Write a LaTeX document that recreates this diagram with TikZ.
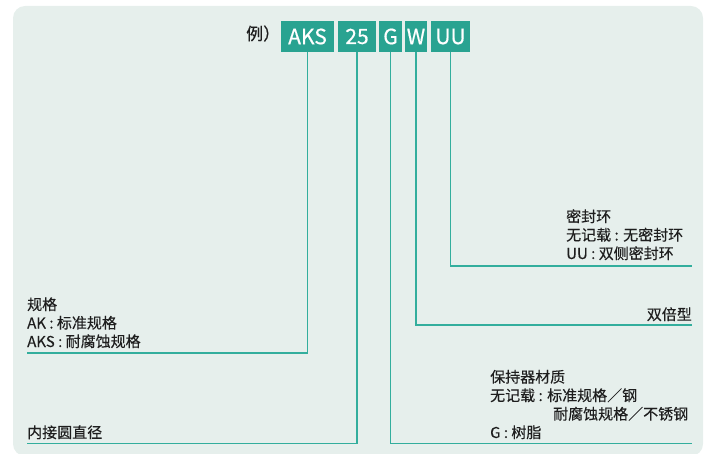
\documentclass[tikz,border=0pt]{standalone}
\usepackage{fontspec}
\setmainfont{Noto Sans CJK SC}
\newfontfamily\labfont{Noto Sans CJK SC}[FakeBold=0.35]
\newfontfamily\boxfont{Noto Sans CJK SC}[FakeBold=0.6]
\definecolor{bgc}{HTML}{E6EFEC}
\definecolor{boxc}{HTML}{29A391}
\definecolor{linec}{HTML}{33AE9D}
\definecolor{txtc}{HTML}{1E1E1E}
\begin{document}
\begin{tikzpicture}[x=1pt,y=-1pt,
  codebox/.style={fill=boxc,text=white,inner sep=0pt,minimum height=31pt,font=\boxfont\fontsize{21}{21}\selectfont},
  conn/.style={draw=linec,line width=1.3pt},
  lbl/.style={anchor=base west,inner sep=0pt,text=txtc,font=\labfont\fontsize{15}{15}\selectfont},
  lblr/.style={anchor=base east,inner sep=0pt,text=txtc,font=\labfont\fontsize{15}{15}\selectfont}]
\useasboundingbox (0,0) rectangle (704,454);
\fill[bgc,rounded corners=12pt] (13,6) rectangle (703,456);
\node[anchor=base west,inner sep=0pt,text=txtc,font=\labfont\fontsize{17}{17}\selectfont] (ex) at (246,40) {例）};
\node[codebox,minimum width=53pt] (aks) at (307.5,36.5) {AKS};
\node[codebox,minimum width=38pt] (n25) at (357,36.5) {25};
\node[codebox,minimum width=23pt] (g) at (390.5,36.5) {G};
\node[codebox,minimum width=22pt] (w) at (416,36.5) {W};
\node[codebox,minimum width=39pt] (uu) at (450.5,36.5) {UU};
\coordinate (e1) at (27,353);
\coordinate (e2) at (27,443.5);
\coordinate (e3) at (692,443.5);
\coordinate (e4) at (692,325);
\coordinate (e5) at (692,266);
\draw[conn] (aks.south) |- (e1);
\draw[conn] (n25.south) |- (e2);
\draw[conn] (g.south) |- (e3);
\draw[conn] (w.south) |- (e4);
\draw[conn] (uu.south) |- (e5);
% UU block
\node[lbl] (u1) at (566,222) {密封环};
\node[lbl] (u2) at (566,240.5) {无记载 : 无密封环};
\node[lbl] (u3) at (566,259) {UU : 双侧密封环};
% W
\node[lblr] (w1) at (692,320) {双倍型};
% AKS block
\node[lbl] (a1) at (27,310) {规格};
\node[lbl] (a2) at (27,328.5) {AK : 标准规格};
\node[lbl] (a3) at (27,347) {AKS : 耐腐蚀规格};
% 25
\node[lbl] (d1) at (27,438) {内接圆直径};
% G block
\node[lbl] (g1) at (490,382.5) {保持器材质};
\node[lbl] (g2) at (490,401) {无记载 : 标准规格／钢};
\node[lbl] (g3) at (553,419.5) {耐腐蚀规格／不锈钢};
\node[lbl] (g4) at (490,438) {G : 树脂};
\end{tikzpicture}
\end{document}
